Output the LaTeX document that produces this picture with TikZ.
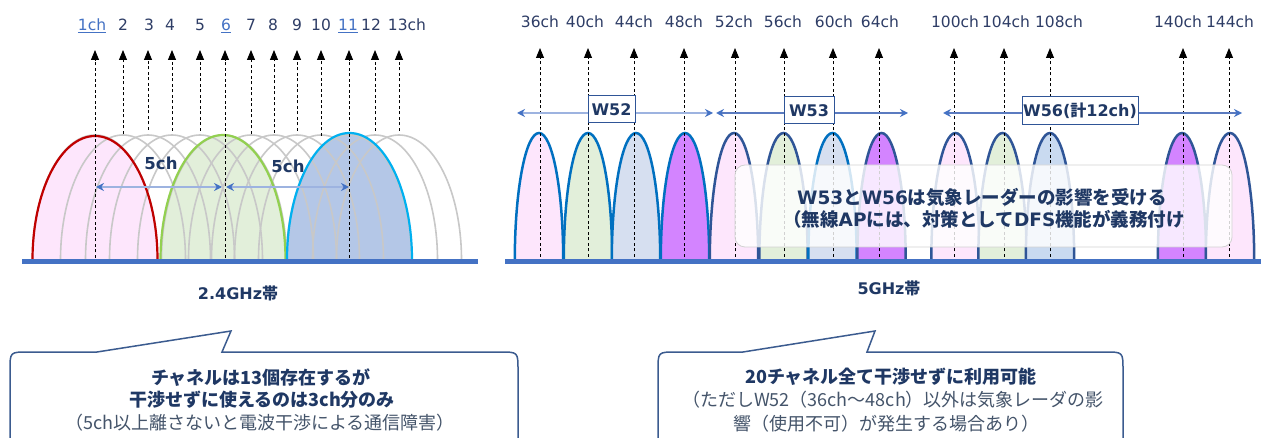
\documentclass[tikz,border=0pt]{standalone}
\usepackage{fontspec}
\setmainfont{Noto Sans CJK JP}
\newfontfamily\lat{DejaVu Sans}
\usetikzlibrary{arrows.meta}
\definecolor{navy}{HTML}{1F3864}
\definecolor{lblc}{HTML}{2E3D66}
\definecolor{ulb}{HTML}{4472C4}
\definecolor{basec}{HTML}{4472C4}
\definecolor{pinkf}{HTML}{FDE6FC}
\definecolor{greenf}{HTML}{E2EFDA}
\definecolor{bluef}{HTML}{B4C7E7}
\definecolor{lbluef}{HTML}{D6DFF0}
\definecolor{lbluefb}{HTML}{C9DAF0}
\definecolor{purpf}{HTML}{D384FF}
\definecolor{redb}{HTML}{C00000}
\definecolor{greenb}{HTML}{92D050}
\definecolor{cyanb}{HTML}{00B0F0}
\definecolor{cb}{HTML}{0070C0}
\definecolor{cn}{HTML}{2F5597}
\definecolor{grayarc}{HTML}{C8C8C8}
\definecolor{spanl}{HTML}{9DB3E0}
\definecolor{spand}{HTML}{5B7BC0}
\definecolor{callc}{HTML}{3B5B8F}
\definecolor{regc}{HTML}{44546A}
\tikzset{
  hump/.style n args={3}{insert path={({#1-#2},260) .. controls ({#1-#2},{260-0.5523*#3}) and ({#1-0.5523*#2},{260-#3}) .. ({#1},{260-#3}) .. controls ({#1+0.5523*#2},{260-#3}) and ({#1+#2},{260-0.5523*#3}) .. ({#1+#2},260)}},
  chanline/.style={dash pattern=on 3pt off 2.5pt, line width=0.9pt, black, -{Triangle[width=8pt,length=10pt]}},
  grayhump/.style={draw=grayarc, line width=1.6pt},
  lbl/.style={anchor=base, inner sep=0pt, text=lblc, font=\lat\fontsize{15.5}{18}\selectfont},
  ulbl/.style={lbl, text=ulb},
  fivech/.style={inner sep=0pt, text=navy, font=\lat\bfseries\fontsize{16.5}{18}\selectfont},
  fivearrow/.style={draw=spanl, line width=1.5pt, {Stealth[length=8pt,width=8pt,color=basec]}-{Stealth[length=8pt,width=8pt,color=basec]}},
  bandarrow/.style={line width=1.5pt, {Stealth[length=8pt,width=8pt,color=basec]}-{Stealth[length=8pt,width=8pt,color=basec]}},
  wbox/.style={draw=cn, line width=1pt, fill=white, inner sep=0pt, text=navy, font=\lat\bfseries\fontsize{16}{18}\selectfont},
  baseline/.style={draw=basec, line width=5pt},
  bandlbl/.style={inner sep=0pt, text=navy, font=\bfseries\fontsize{16}{18}\selectfont},
  callout/.style={draw=callc, line width=1.5pt, fill=white},
  boldline/.style={inner sep=0pt, text=navy, font=\bfseries\fontsize{18}{20}\selectfont},
  regline/.style={inner sep=0pt, text=regc, font=\fontsize{18}{20}\selectfont},
  ovl/.style={inner sep=0pt, text=navy, font=\bfseries\fontsize{18.5}{20}\selectfont},
}
\begin{document}
\begin{tikzpicture}[x=1pt,y=-1pt]
\useasboundingbox (0,0) rectangle (1261,438);
\fill[white] (0,0) rectangle (1261,438);

% ---------------- 2.4 GHz ----------------
\fill[pinkf, hump={95}{62.5}{124}];
\fill[greenf, hump={223}{62.5}{125}];
\fill[bluef, hump={349.5}{62.5}{127}];
\foreach \x in {95,123,148,172,200,224,251,274,297,321,349,375,399}
  \draw[grayhump, hump={\x}{62.5}{125}];
\draw[redb, line width=2.2pt, hump={95}{62.5}{124}];
\draw[greenb, line width=2.2pt, hump={223}{62.5}{125}];
\draw[cyanb, line width=2.2pt, hump={349.5}{62.5}{127}];

\foreach \x/\yb/\i in {95/258/1,123/134/2,148/130/3,172/131/4,200/131/5,225/258/6,251/134/7,274/133/8,297/131/9,321/136/10,349/258/11,375/131/12,399/131/13}{
  \coordinate (B\i) at (\x,\yb);
  \coordinate (T\i) at (\x,50);
  \draw[chanline] (B\i) -- (T\i);
}
\node[ulbl] (L1) at (92,30.5) {\underline{1ch}};
\node[lbl] (L2) at (123,30.5) {2};
\node[lbl] (L3) at (149,30.5) {3};
\node[lbl] (L4) at (170,30.5) {4};
\node[lbl] (L5) at (200,30.5) {5};
\node[ulbl] (L6) at (226,30.5) {\underline{6}};
\node[lbl] (L7) at (251,30.5) {7};
\node[lbl] (L8) at (273,30.5) {8};
\node[lbl] (L9) at (297,30.5) {9};
\node[lbl] (L10) at (321,30.5) {10};
\node[ulbl] (L11) at (348,30.5) {\underline{11}};
\node[lbl] (L12) at (371,30.5) {12};
\node[lbl] (L13) at (407,30.5) {13ch};

\coordinate (fa1) at (96,187);
\coordinate (fa2) at (222,187);
\coordinate (fa3) at (226,187);
\coordinate (fa4) at (349,187);
\draw[fivearrow] (fa1) -- (fa2);
\draw[fivearrow] (fa3) -- (fa4);
\node[fivech] (f1) at (161,163) {5ch};
\node[fivech] (f2) at (288,166) {5ch};

\coordinate (bl1) at (22,262);
\coordinate (bl2) at (478,262);
\draw[baseline] (bl1) -- (bl2);
\node[bandlbl] (band24) at (238,293) {{\lat 2.4GHz}帯};

% ---------------- 5 GHz ----------------
\foreach \x/\f/\b in {539/pinkf/cb,588/greenf/cb,636/lbluef/cb,685/purpf/cb,734/pinkf/cn,783.5/greenf/cn,832.5/lbluef/cb,881.5/purpf/cn,955.5/pinkf/cn,1002.5/greenf/cn,1050/lbluefb/cn,1182/purpf/cn,1230/pinkf/cn}
  \draw[draw=\b, fill=\f, line width=2.5pt, hump={\x}{24.2}{127}];

\foreach \x/\i in {540/1,588/2,634/3,684/4,735/5,784/6,833/7,879/8,954/9,1004/10,1050/11,1183/12,1229/13}{
  \coordinate (FB\i) at (\x,257);
  \coordinate (FT\i) at (\x,48);
  \draw[chanline] (FB\i) -- (FT\i);
}
\foreach \x/\t/\i in {540/36ch/1,585/40ch/2,634/44ch/3,684/48ch/4,734/52ch/5,783/56ch/6,834/60ch/7,880/64ch/8,955/100ch/9,1006/104ch/10,1059/108ch/11,1178/140ch/12,1230/144ch/13}
  \node[lbl] (FL\i) at (\x,27.5) {\t};

\coordinate (baseb1) at (505,262);
\coordinate (baseb2) at (1261,262);
\draw[baseline] (baseb1) -- (baseb2);

\coordinate (w52a) at (517,113);
\coordinate (w52b) at (713,113);
\coordinate (w53a) at (716,113);
\coordinate (w53b) at (908,113);
\coordinate (w56a) at (943,113);
\coordinate (w56b) at (1242,113);
\draw[bandarrow, draw=spanl] (w52a) -- (w52b);
\draw[bandarrow, draw=spand] (w53a) -- (w53b);
\draw[bandarrow, draw=spand] (w56a) -- (w56b);
\node[wbox, minimum width=47pt, minimum height=27pt] (w52) at (611.5,109.5) {W52};
\node[wbox, minimum width=50pt, minimum height=27pt] (w53) at (809,110.5) {W53};
\node[wbox, minimum width=116pt, minimum height=28pt] (w56) at (1080,111) {W56(\normalfont\bfseries 計\lat 12ch)};

% translucent note
\fill[white, fill opacity=0.82, rounded corners=10pt] (735,165) rectangle (1232,247);
\draw[gray!35, line width=0.8pt, rounded corners=10pt] (735,165) rectangle (1232,247);
\node[ovl] (o1) at (982,197) {{\lat W53}と{\lat W56}は気象レーダーの影響を受ける};
\node[ovl] (o2) at (984,219) {（無線{\lat AP}には、対策として{\lat DFS}機能が義務付け};

\node[bandlbl] (band5) at (889,288) {{\lat 5GHz}帯};

% ---------------- callouts ----------------
\draw[callout] (10,450) -- (10,370) .. controls (10,352) .. (28,352) -- (97,352) -- (231,331) -- (222,352) -- (500,352) .. controls (518,352) .. (518,370) -- (518,450);
\node[boldline] (c1) at (261,378) {チャネルは13個存在するが};
\node[boldline] (c2) at (262,400) {干渉せずに使えるのは3ch分のみ};
\node[regline] (c3) at (260,423) {（5ch以上離さないと電波干渉による通信障害）};

\draw[callout] (658,450) -- (658,370) .. controls (658,352) .. (676,352) -- (743,352) -- (875,331) -- (867,352) -- (1105,352) .. controls (1123,352) .. (1123,370) -- (1123,450);
\node[boldline] (d1) at (891,377) {20チャネル全て干渉せずに利用可能};
\node[regline] (d2) at (893,400) {（ただしW52（36ch～48ch）以外は気象レーダの影};
\node[regline] (d3) at (886,424) {響（使用不可）が発生する場合あり）};
\end{tikzpicture}
\end{document}
